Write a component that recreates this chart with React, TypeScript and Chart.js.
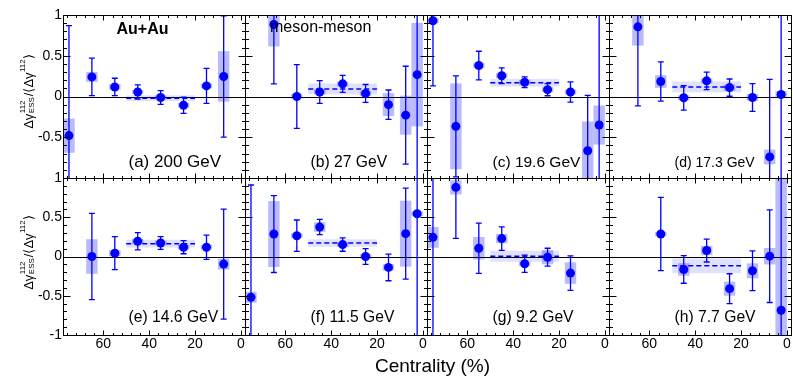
import React, { useEffect, useRef } from 'react';
import Chart from 'chart.js/auto';

const FONT = "'Liberation Sans', Arial, Helvetica, sans-serif";

// ---------------- data ----------------
const centrality = [75, 65, 55, 45, 35, 25, 15, 7.5, 2.5];
const panelLabels = ['(a) 200 GeV', '(b) 27 GeV', '(c) 19.6 GeV', '(d) 17.3 GeV', '(e) 14.6 GeV', '(f) 11.5 GeV', '(g) 9.2 GeV', '(h) 7.7 GeV'];
const systemLabel = 'Au+Au';
const pairLabel = 'meson-meson';
const xTitle = 'Centrality (%)';
const yTitleParts = ['Δγ', '112', 'ESS', '/\u27E8Δγ', '112', '\u27E9'];

const y200 = [-0.48, 0.24, 0.117, 0.055, -0.012, -0.108, 0.13, 0.246, null];
const stat200 = [1.35, 0.23, 0.107, 0.088, 0.085, 0.1, 0.215, 0.745, null];
const sys200 = [0.21, 0.06, 0.035, 0.025, 0.025, 0.03, 0.03, 0.31, null];

const y27 = [null, 0.884, 0.0, 0.055, 0.155, 0.037, -0.1, -0.229, 0.268];
const stat27 = [null, 0.73, 0.39, 0.14, 0.105, 0.11, 0.18, 0.6, 1.8];
const sys27 = [null, 0.27, 0.03, 0.03, 0.03, 0.03, 0.14, 0.24, 0.635];

const y196 = [0.93, -0.366, 0.38, 0.255, 0.175, 0.084, 0.055, -0.666, -0.35];
const stat196 = [0.8, 0.62, 0.175, 0.097, 0.067, 0.075, 0.125, 0.68, 1.5];
const sys196 = [0.03, 0.527, 0.03, 0.03, 0.03, 0.03, 0.03, 0.36, 0.24];

const y173 = [null, 0.855, 0.184, -0.016, 0.192, 0.109, -0.012, -0.741, 0.025];
const stat173 = [null, 0.97, 0.24, 0.15, 0.108, 0.106, 0.17, 0.95, 1.6];
const sys173 = [null, 0.23, 0.077, 0.03, 0.03, 0.04, 0.04, 0.09, 0.04];

const y146 = [null, 0.0, 0.042, 0.194, 0.172, 0.118, 0.118, -0.097, null];
const stat146 = [null, 0.55, 0.21, 0.11, 0.08, 0.083, 0.154, 0.7, null];
const sys146 = [null, 0.22, 0.04, 0.03, 0.03, 0.03, 0.03, 0.07, null];

const y115 = [-0.519, 0.286, 0.265, 0.375, 0.152, 0.0, -0.139, 0.291, 0.544];
const stat115 = [1.43, 0.49, 0.2, 0.097, 0.085, 0.1, 0.17, 0.58, 1.7];
const sys115 = [0.07, 0.42, 0.03, 0.06, 0.03, 0.03, 0.04, 0.42, 0.03];

const y92 = [0.244, 0.881, 0.105, 0.228, -0.093, -0.009, -0.211, null, null];
const stat92 = [1.4, 0.65, 0.32, 0.15, 0.11, 0.114, 0.22, null, null];
const sys92 = [0.133, 0.09, 0.143, 0.06, 0.03, 0.09, 0.137, null, null];

const y77 = [null, null, 0.286, -0.165, 0.076, -0.41, -0.182, 0.004, -0.684];
const stat77 = [null, null, 0.466, 0.176, 0.146, 0.19, 0.253, 0.59, 1.8];
const sys77 = [null, null, 0.03, 0.08, 0.06, 0.09, 0.095, 0.105, 1.8];

const avgRange = [50, 20];
const avgValue = [-0.02, 0.092, 0.168, 0.118, 0.164, 0.172, 0.004, -0.119];
const avgSys = [0.035, 0.067, 0.046, 0.067, 0.05, 0.047, 0.07, 0.093];

const xMajorTicks = [60, 40, 20, 0];
const xMinorTicks = [76, 72, 68, 64, 56, 52, 48, 44, 36, 32, 28, 24, 16, 12, 8, 4];
const yMajorTicks = [1, 0.5, 0, -0.5, -1];
const yMinorTicks = [0.9, 0.8, 0.7, 0.6, 0.4, 0.3, 0.2, 0.1, -0.1, -0.2, -0.3, -0.4, -0.6, -0.7, -0.8, -0.9];

const panelValues = [y200, y27, y196, y173, y146, y115, y92, y77];
const panelStat = [stat200, stat27, stat196, stat173, stat146, stat115, stat92, stat77];
const panelSys = [sys200, sys27, sys196, sys173, sys146, sys115, sys92, sys77];

// ---------------- layout / style ----------------
const COL_LEFT = [63, 245, 427, 609];
const PANEL_W = 182;
const ROW_TOP = [15, 178];
const ROW_H = [163, 157];
const X_MIN = -1.8;
const X_MAX = 77.6;
const BIN_HALF = 2.5;
const BLUE = '#0000ff';
const SYS_FILL = 'rgba(0,0,255,0.27)';
const BAND_FILL = 'rgba(0,0,255,0.12)';
const LABEL_SIZE = [17, 15.7, 15.5, 14, 15.7, 15.6, 15.7, 15.7];

const fmtY = (v: number) => (v < 0 ? '-' + Math.abs(v) : String(v));

function drawYTitle(ctx: CanvasRenderingContext2D, bx: number, cy: number) {
  const main = `13px ${FONT}`;
  const small = `8px ${FONT}`;
  ctx.save();
  ctx.fillStyle = '#000';
  ctx.textBaseline = 'alphabetic';
  ctx.textAlign = 'left';
  ctx.font = main;
  const w0 = ctx.measureText(yTitleParts[0]).width;
  const w3 = ctx.measureText(yTitleParts[3]).width;
  const w5 = ctx.measureText(yTitleParts[5]).width;
  ctx.font = small;
  const w12 = Math.max(ctx.measureText(yTitleParts[1]).width, ctx.measureText(yTitleParts[2]).width) + 1.5;
  const w4 = ctx.measureText(yTitleParts[4]).width + 0.5;
  const total = w0 + w12 + w3 + w4 + w5;
  ctx.translate(bx, cy);
  ctx.rotate(-Math.PI / 2);
  let x = -total / 2;
  ctx.font = main;
  ctx.fillText(yTitleParts[0], x, 0);
  x += w0;
  ctx.font = small;
  ctx.fillText(yTitleParts[1], x + 0.5, -8.5);
  ctx.fillText(yTitleParts[2], x + 0.5, 0.5);
  x += w12;
  ctx.font = main;
  ctx.fillText(yTitleParts[3], x, 0);
  x += w3;
  ctx.font = small;
  ctx.fillText(yTitleParts[4], x + 0.3, -8.5);
  x += w4;
  ctx.font = main;
  ctx.fillText(yTitleParts[5], x, 0);
  ctx.restore();
}

function Panel({ index }: { index: number }) {
  const ref = useRef<HTMLCanvasElement>(null);
  const col = index % 4;
  const row = Math.floor(index / 4);
  const padL = col === 0 ? 63 : 8;
  const padR = 8;
  const padT = 12;
  const padB = row === 1 ? 40 : 12;
  const w = padL + PANEL_W + padR;
  const h = padT + ROW_H[row] + padB;

  useEffect(() => {
    const vals = panelValues[index];
    const stat = panelStat[index];
    const sys = panelSys[index];
    const pts: { x: number; y: number }[] = [];
    centrality.forEach((c, i) => {
      if (vals[i] != null) pts.push({ x: c, y: vals[i] as number });
    });

    const decor = {
      id: 'decor' + index,
      beforeDatasetsDraw(chart: any) {
        const { ctx, chartArea: a, scales } = chart;
        const x = scales.x, y = scales.y;
        ctx.save();
        ctx.beginPath();
        ctx.rect(a.left, a.top, a.right - a.left, a.bottom - a.top);
        ctx.clip();
        const bx1 = x.getPixelForValue(avgRange[0]);
        const bx2 = x.getPixelForValue(avgRange[1]);
        const by1 = y.getPixelForValue(avgValue[index] + avgSys[index]);
        const by2 = y.getPixelForValue(avgValue[index] - avgSys[index]);
        ctx.fillStyle = BAND_FILL;
        ctx.fillRect(Math.min(bx1, bx2), by1, Math.abs(bx2 - bx1), by2 - by1);
        ctx.fillStyle = SYS_FILL;
        centrality.forEach((c, i) => {
          const v = vals[i];
          const s = sys[i];
          if (v == null || s == null) return;
          const x1 = x.getPixelForValue(c + BIN_HALF);
          const x2 = x.getPixelForValue(c - BIN_HALF);
          const y1 = y.getPixelForValue(v + s);
          const y2 = y.getPixelForValue(v - s);
          ctx.fillRect(Math.min(x1, x2), y1, Math.abs(x2 - x1), y2 - y1);
        });
        const y0 = Math.round(y.getPixelForValue(0)) + 0.5;
        ctx.strokeStyle = '#000';
        ctx.lineWidth = 1;
        ctx.beginPath();
        ctx.moveTo(a.left, y0);
        ctx.lineTo(a.right, y0);
        ctx.stroke();
        ctx.strokeStyle = BLUE;
        ctx.lineWidth = 1.3;
        centrality.forEach((c, i) => {
          const v = vals[i];
          const e = stat[i];
          if (v == null || e == null) return;
          const px = x.getPixelForValue(c);
          const t = y.getPixelForValue(v + e);
          const b = y.getPixelForValue(v - e);
          ctx.beginPath();
          ctx.moveTo(px, t);
          ctx.lineTo(px, b);
          ctx.moveTo(px - 3, t);
          ctx.lineTo(px + 3, t);
          ctx.moveTo(px - 3, b);
          ctx.lineTo(px + 3, b);
          ctx.stroke();
        });
        ctx.restore();
      },
      afterDraw(chart: any) {
        const { ctx, chartArea: a, scales } = chart;
        const x = scales.x, y = scales.y;
        ctx.save();
        ctx.strokeStyle = '#000';
        ctx.lineWidth = 1;
        const L = a.left + 0.5, R = a.right + 0.5, T = a.top + 0.5, B = a.bottom + 0.5;
        ctx.strokeRect(L, T, R - L, B - T);
        ctx.beginPath();
        const xt = (v: number, len: number) => {
          const px = Math.round(x.getPixelForValue(v)) + 0.5;
          ctx.moveTo(px, B);
          ctx.lineTo(px, B - len);
          ctx.moveTo(px, T);
          ctx.lineTo(px, T + len);
        };
        const yt = (v: number, len: number) => {
          const py = Math.round(y.getPixelForValue(v)) + 0.5;
          ctx.moveTo(L, py);
          ctx.lineTo(L + len, py);
          ctx.moveTo(R, py);
          ctx.lineTo(R - len, py);
        };
        xMajorTicks.forEach((v) => xt(v, 5));
        xMinorTicks.forEach((v) => xt(v, 2.5));
        yMajorTicks.forEach((v) => yt(v, 7));
        yMinorTicks.forEach((v) => yt(v, 3.5));
        ctx.stroke();
        ctx.fillStyle = '#000';
        ctx.textAlign = 'left';
        ctx.textBaseline = 'alphabetic';
        ctx.font = `${LABEL_SIZE[index]}px ${FONT}`;
        ctx.fillText(panelLabels[index], a.left + 65.5, a.bottom - (row === 0 ? 11 : 13));
        if (index === 0) {
          ctx.font = `bold 16px ${FONT}`;
          ctx.fillText(systemLabel, a.left + 53.5, a.top + 18.5);
        }
        if (index === 1) {
          ctx.font = `16px ${FONT}`;
          ctx.fillText(pairLabel, a.left + 25, a.top + 17);
        }
        ctx.restore();
        if (col === 0) {
          drawYTitle(ctx, 33.3, a.top + (row === 0 ? 76.5 : 74.5));
        }
      },
    };

    const chart = new Chart(ref.current as HTMLCanvasElement, {
      type: 'scatter',
      data: {
        datasets: [
          {
            type: 'line',
            data: [
              { x: avgRange[0], y: avgValue[index] },
              { x: avgRange[1], y: avgValue[index] },
            ],
            borderColor: BLUE,
            borderWidth: 1.5,
            borderDash: [5, 3],
            pointRadius: 0,
            fill: false,
            clip: 0,
            order: 2,
          } as any,
          {
            type: 'scatter',
            data: pts,
            pointRadius: 4.5,
            pointHoverRadius: 4.5,
            backgroundColor: BLUE,
            borderWidth: 0,
            clip: 0,
            order: 1,
          } as any,
        ],
      },
      options: {
        responsive: false,
        animation: false,
        devicePixelRatio: 1,
        events: [],
        layout: { padding: { left: col === 0 ? 0 : padL, right: padR, top: padT, bottom: 0 } },
        plugins: { legend: { display: false }, tooltip: { enabled: false } },
        scales: {
          x: {
            type: 'linear',
            position: 'bottom',
            reverse: true,
            min: X_MIN,
            max: X_MAX,
            grid: { display: false, drawTicks: false },
            border: { display: false },
            ticks: { display: row === 1, font: { family: FONT, size: 14 }, color: '#000', padding: 1, maxRotation: 0, autoSkip: false },
            afterBuildTicks: (s: any) => {
              s.ticks = xMajorTicks.map((v) => ({ value: v }));
            },
            afterFit: (s: any) => {
              s.height = padB;
            },
          },
          y: {
            type: 'linear',
            position: 'left',
            min: -1,
            max: 1,
            grid: { display: false, drawTicks: false },
            border: { display: false },
            ticks: { display: col === 0, font: { family: FONT, size: 14 }, color: '#000', padding: 1, autoSkip: false, callback: (v: any) => fmtY(Number(v)) },
            afterBuildTicks: (s: any) => {
              s.ticks = (row === 0 ? yMajorTicks.filter((v) => v > -1) : yMajorTicks).map((v) => ({ value: v }));
            },
            afterFit: (s: any) => {
              s.width = col === 0 ? padL : 0;
            },
          },
        },
      } as any,
      plugins: [decor],
    });
    return () => chart.destroy();
  }, []);

  return (
    <canvas
      ref={ref}
      width={w}
      height={h}
      style={{ position: 'absolute', left: COL_LEFT[col] - padL, top: ROW_TOP[row] - padT, width: w, height: h }}
    />
  );
}

export default function App() {
  return (
    <div style={{ position: 'absolute', left: 0, top: 0, width: 793, height: 378, background: '#fff', overflow: 'hidden' }}>
      {[0, 1, 2, 3, 4, 5, 6, 7].map((i) => (
        <Panel key={i} index={i} />
      ))}
      <div
        style={{
          position: 'absolute',
          left: 432.5,
          top: 356,
          transform: 'translateX(-50%)',
          whiteSpace: 'nowrap',
          fontFamily: FONT,
          fontSize: 19,
          lineHeight: '19px',
          color: '#000',
        }}
      >
        {xTitle}
      </div>
    </div>
  );
}
